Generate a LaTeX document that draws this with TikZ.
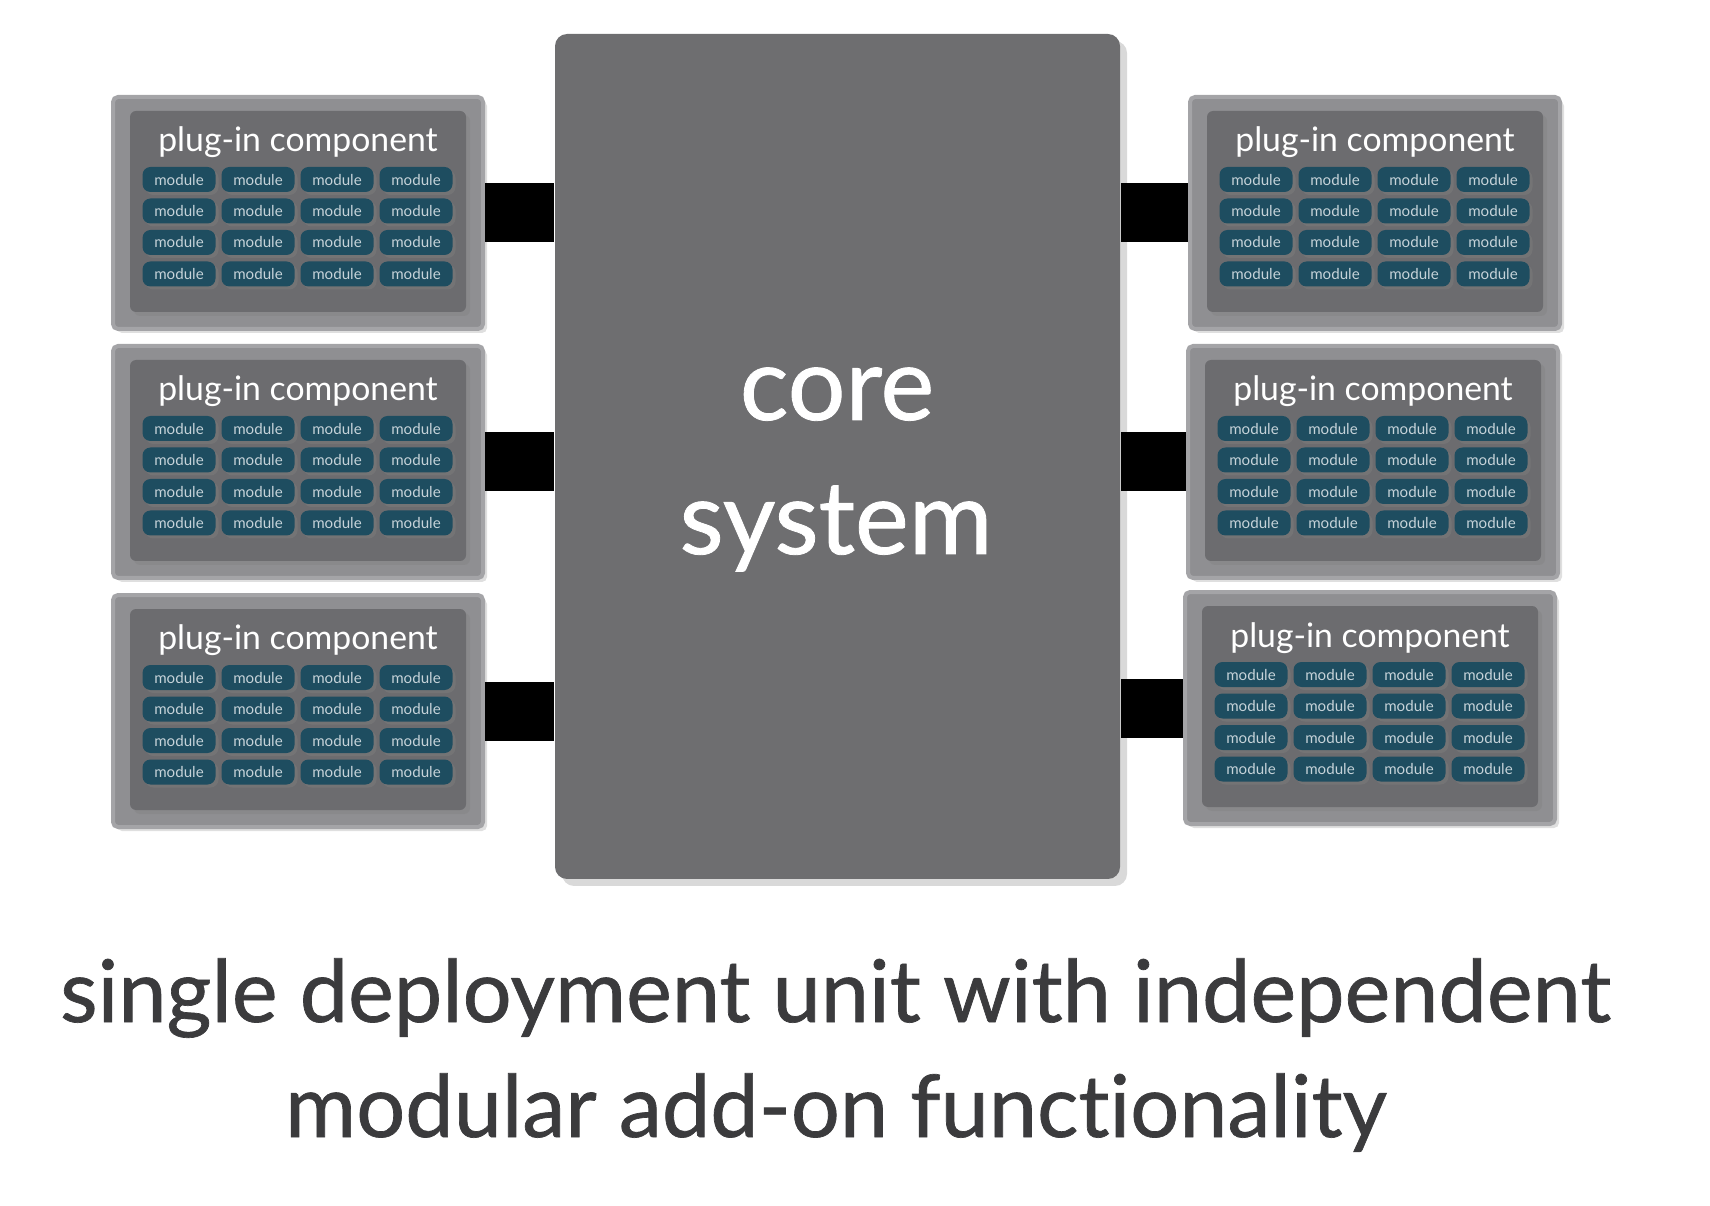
\documentclass[tikz,border=0pt]{standalone}
\usepackage{fontspec}
\setmainfont{Lato}[Ligatures=NoCommon]
\newfontfamily\heavyfont{Lato}[Ligatures=NoCommon,FakeBold=0.8]
\usetikzlibrary{positioning,shadows}
\definecolor{coreGray}{HTML}{6E6E70}
\definecolor{plugGray}{HTML}{8F8F92}
\definecolor{plugEdge}{HTML}{A4A4A7}
\definecolor{innerGray}{HTML}{6C6C6F}
\definecolor{modTeal}{HTML}{1E4D60}
\definecolor{modInk}{HTML}{C6D3D9}
\definecolor{capInk}{HTML}{3B3B3D}
\tikzset{
  every picture/.style={text=capInk},
  core box/.style={fill=coreGray, rounded corners=1.2mm, minimum width=56.5mm,
    minimum height=84.5mm, inner sep=0pt,
    drop shadow={shadow xshift=0.7mm, shadow yshift=-0.7mm, opacity=0.3}},
  core text/.style={anchor=base, text=white, font=\heavyfont\fontsize{29}{35}\selectfont},
  plug box/.style={fill=plugGray, draw=plugEdge, line width=0.4mm,
    rounded corners=0.5mm, minimum width=37mm, minimum height=23.2mm, inner sep=0pt,
    drop shadow={shadow xshift=0.4mm, shadow yshift=-0.4mm, opacity=0.25}},
  plug inner/.style={fill=innerGray, rounded corners=0.6mm, minimum width=33.6mm,
    minimum height=20.1mm, inner sep=0pt,
    drop shadow={shadow xshift=0.4mm, shadow yshift=-0.4mm, opacity=0.35}},
  plug title/.style={anchor=base, text=white, font=\fontsize{9.6}{11}\selectfont},
  module/.style={fill=modTeal, rounded corners=0.8mm, minimum width=7.3mm,
    minimum height=2.5mm, inner sep=0pt, text=modInk,
    font=\fontsize{4.3}{5}\selectfont,
    drop shadow={shadow xshift=0.3mm, shadow yshift=-0.3mm, opacity=0.4}},
  plug link/.style={draw=black, line width=5.9mm, line cap=butt},
  caption/.style={anchor=base, font=\heavyfont\fontsize{24.6}{30}\selectfont}
}
\begin{document}
\begin{tikzpicture}[x=0.1mm,y=-0.1mm]
  \useasboundingbox (0,0) rectangle (1710,1206);
  % core
  \node[core box] (core) at (837.5,456.5) {};
  \node[core text] (core-word) at (837,420) {core};
  \node[core text] (system-word) at (836,554) {system};
  % plug-in components
  \foreach \name/\cx/\cy in {pl1/298/213, pl2/298/462, pl3/298/711,
      pr1/1375/213, pr2/1373/462, pr3/1370/708}{
    \node[plug box] (\name) at (\cx,\cy) {};
    \node[plug inner] (\name-in) at (\cx,\cy-1.5) {};
    \node[plug title] (\name-title) at (\cx,\cy-61) {plug-in component};
    \foreach \r in {1,...,4}{
      \foreach \c in {1,...,4}{
        \node[module] (\name-m\r\c) at ({\cx-119+79*(\c-1)},{\cy-33.5+31.5*(\r-1)}) {module};
      }
    }
  }
  % links to the core
  \foreach \p in {pl1,pl2,pl3}
    \draw[plug link] (\p.east) -- (\p.east -| core.west);
  \foreach \p in {pr1,pr2,pr3}
    \draw[plug link] (\p.west) -- (\p.west -| core.east);
  % caption
  \node[caption] (cap-one) at (835.5,1022) {single deployment unit with independent};
  \node[caption] (cap-two) at (836,1137) {modular add-on functionality};
\end{tikzpicture}
\end{document}
